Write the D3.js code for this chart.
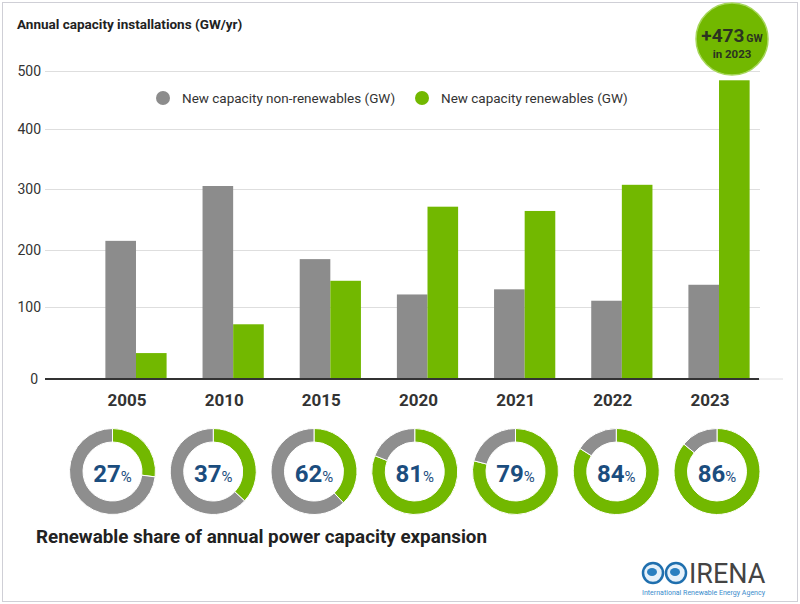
<!DOCTYPE html>
<html><head><meta charset="utf-8">
<script src="https://cdn.jsdelivr.net/npm/d3@7"></script>
<style>body{margin:0;background:#fff}svg{display:block;font-family:Roboto,"Noto Sans",sans-serif}</style>
</head><body><svg id="c" width="800" height="604"></svg>
<script>
const years = ["2005","2010","2015","2020","2021","2022","2023"];
const nonRenewables = [215,305,184,122,131,111,139];
const renewables = [36,76,146,271,264,307,484];
const renewableShareLabel = [27,37,62,81,79,84,86];
// green portion of each ring as drawn in the reference picture
const renewableShareRing = [27,37,38,81,79,84,86];
const yTicks = [0,100,200,300,400,500];
const seriesNames = ["New capacity non-renewables (GW)","New capacity renewables (GW)"];

const GREY = "#8c8c8c", GREEN = "#72b800", BLUE = "#1b4d7e";
const svg = d3.select("#c");

// frame
svg.append("rect").attr("x",2.5).attr("y",2.5).attr("width",795).attr("height",599)
  .attr("fill","#fff").attr("stroke","#cfcfd6");

const y = d3.scaleLinear().domain(yTicks).range([379,307,250,189,129,71]);
const x0 = d3.scaleBand().domain(years).range([87.4,767.6]).paddingInner(0.37).paddingOuter(0.185);
const x1 = d3.scaleBand().domain(["non","ren"]).range([0,x0.bandwidth()]);

// grid + axis
const ax = svg.append("g").attr("transform","translate(45,0)")
  .call(d3.axisLeft(y).tickValues(yTicks).tickSize(-715).tickPadding(4));
ax.select(".domain").remove();
ax.selectAll(".tick line").attr("stroke","#dedede");
ax.selectAll(".tick text").attr("fill","#333").attr("font-size",14).attr("font-family","Roboto")
  .attr("dx",d=>d===0?-3:0);
svg.append("line").attr("x1",759).attr("x2",783).attr("y1",y(0)).attr("y2",y(0)).attr("stroke","#dedede");

// title
svg.append("text").attr("x",17).attr("y",29).attr("font-size",13.5).attr("font-weight","bold")
  .attr("fill","#222").text("Annual capacity installations (GW/yr)");

// bars
const rows = years.map((yr,i)=>({year:yr, vals:[{k:"non",v:nonRenewables[i]},{k:"ren",v:renewables[i]}]}));
const g = svg.append("g");
g.selectAll("g.grp").data(rows).join("g").attr("class","grp")
  .attr("transform",d=>`translate(${x0(d.year)},0)`)
  .selectAll("rect").data(d=>d.vals).join("rect")
  .attr("x",d=>x1(d.k)).attr("width",x1.bandwidth())
  .attr("y",d=>y(d.v)).attr("height",d=>y(0)-y(d.v))
  .attr("fill",d=>d.k==="non"?GREY:GREEN);

// baseline
svg.append("line").attr("x1",45).attr("x2",759).attr("y1",y(0)).attr("y2",y(0))
  .attr("stroke","#333").attr("stroke-width",2);

// year labels
svg.selectAll("text.yr").data(years).join("text").attr("class","yr")
  .attr("x",d=>x0(d)+x0.bandwidth()/2-9).attr("y",406).attr("text-anchor","middle")
  .attr("font-size",17).attr("font-weight","bold").attr("fill","#333").text(d=>d);

// legend
const leg = [{x:163,c:GREY,t:seriesNames[0]},{x:422,c:GREEN,t:seriesNames[1]}];
leg.forEach(l=>{
  svg.append("circle").attr("cx",l.x).attr("cy",98).attr("r",7).attr("fill",l.c);
  svg.append("text").attr("x",l.x+19).attr("y",103).attr("font-size",13.5).attr("fill","#333").text(l.t);
});

// badge
svg.append("circle").attr("cx",732).attr("cy",39).attr("r",36).attr("fill",GREEN).attr("stroke","#a6d65a").attr("stroke-width",1.5);
const bt = svg.append("text").attr("x",732).attr("y",42).attr("text-anchor","middle").attr("fill","#2b3320").attr("font-weight","bold");
bt.append("tspan").attr("font-size",19).text("+473");
bt.append("tspan").attr("font-size",10.5).attr("dx",2).text("GW");
svg.append("text").attr("x",732).attr("y",58).attr("text-anchor","middle").attr("fill","#2b3320")
  .attr("font-weight","bold").attr("font-size",11.5).text("in 2023");

// donuts
const xd = d3.scalePoint().domain(years).range([112.5,717]);
const pie = d3.pie().sort(null).value(d=>d.v);
const arc = d3.arc().innerRadius(29.5).outerRadius(43);
years.forEach((yr,i)=>{
  const dg = svg.append("g").attr("transform",`translate(${xd(yr)},471.5)`);
  dg.selectAll("path").data(pie([{v:renewableShareRing[i],c:GREEN},{v:100-renewableShareRing[i],c:"#8e8e8e"}]))
    .join("path").attr("d",arc).attr("fill",d=>d.data.c).attr("stroke","#fff").attr("stroke-width",1);
  const t = dg.append("text").attr("x",0).attr("y",10).attr("text-anchor","middle").attr("fill",BLUE).attr("font-weight","bold");
  t.append("tspan").attr("font-size",24).text(renewableShareLabel[i]);
  t.append("tspan").attr("font-size",15).attr("font-weight","normal").text("%");
});

svg.append("text").attr("x",36).attr("y",543).attr("font-size",18.8).attr("font-weight","bold")
  .attr("fill","#222").text("Renewable share of annual power capacity expansion");

// IRENA logo
const lg = svg.append("g");
[653,676].forEach(cx=>{
  lg.append("circle").attr("cx",cx).attr("cy",573).attr("r",10).attr("fill","#e6f1fa").attr("stroke","#1f6fae").attr("stroke-width",2.5);
  lg.append("ellipse").attr("cx",cx-1).attr("cy",572).attr("rx",5).attr("ry",4).attr("fill","#2a7fc0");
});
lg.append("text").attr("x",689).attr("y",583).attr("font-size",27).attr("fill","#444").text("IRENA");
lg.append("text").attr("x",642).attr("y",595).attr("font-size",7).attr("fill","#3a8ccc")
  .attr("textLength",123).attr("lengthAdjust","spacingAndGlyphs").text("International Renewable Energy Agency");
</script></body></html>
